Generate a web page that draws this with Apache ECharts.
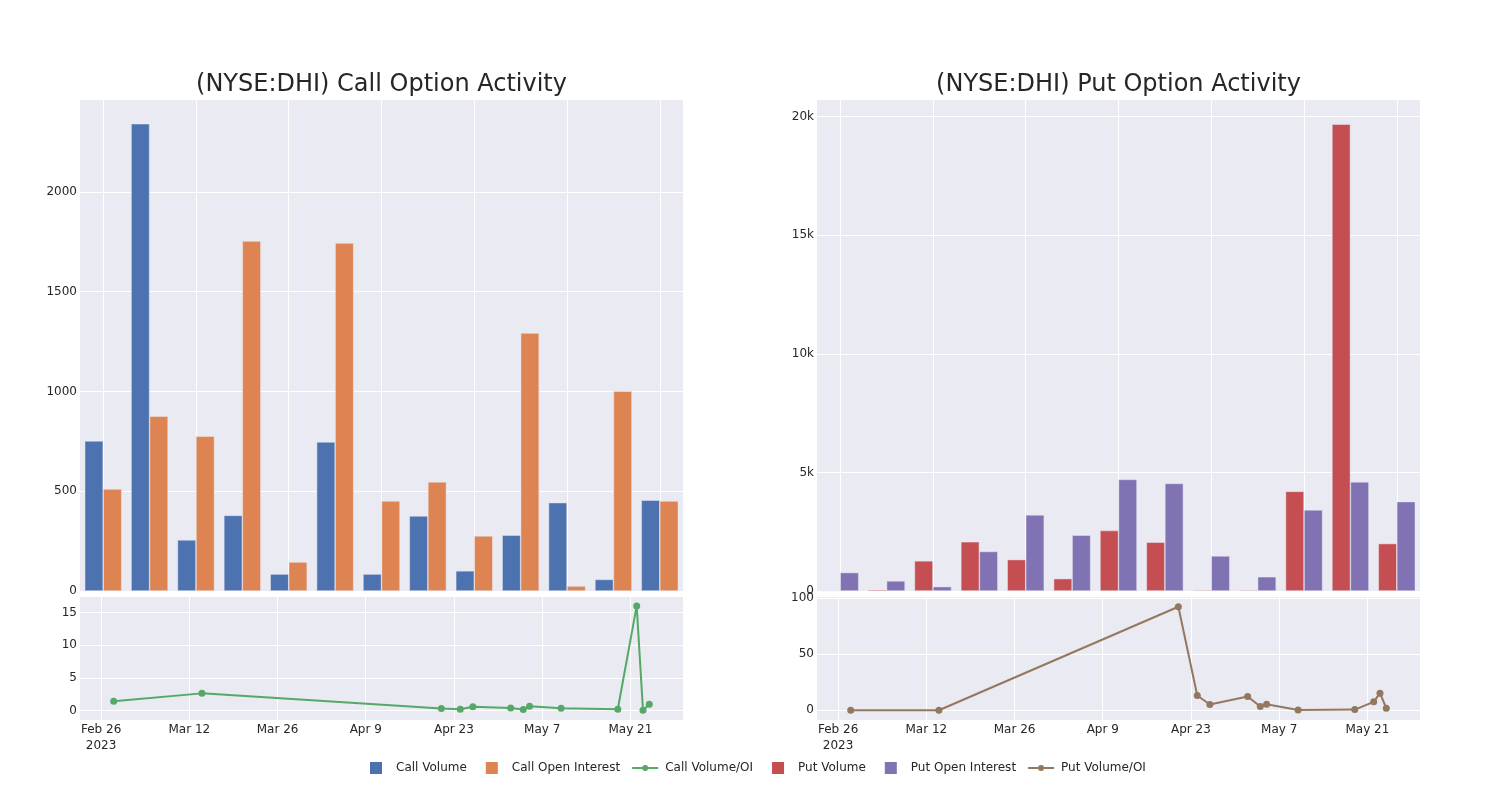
<!DOCTYPE html>
<html><head><meta charset="utf-8">
<script src="https://cdn.jsdelivr.net/npm/echarts@6/dist/echarts.min.js"></script>
<style>html,body{margin:0;padding:0;background:#fff}#c{width:1500px;height:800px}</style>
</head><body><div id="c"></div>
<script>
// ---- data ----
const weekDates = ['2023-02-26','2023-03-05','2023-03-12','2023-03-19','2023-03-26','2023-04-02','2023-04-09','2023-04-16','2023-04-23','2023-04-30','2023-05-07','2023-05-14','2023-05-21'];
const callVolume = [752, 2342, 256, 379, 85, 747, 85, 376, 101, 280, 443, 58, 455];
const callOpenInterest = [511, 876, 776, 1754, 145, 1744, 451, 547, 276, 1293, 25, 1002, 451];
const putVolume = [15, 55, 1271, 2076, 1324, 521, 2549, 2056, 42, 42, 4200, 19680, 2000];
const putOpenInterest = [777, 424, 184, 1667, 3211, 2352, 4704, 4535, 1478, 600, 3420, 4602, 3770];
const ratioDates = ['2023-02-28','2023-03-14','2023-04-21','2023-04-24','2023-04-26','2023-05-02','2023-05-04','2023-05-05','2023-05-10','2023-05-19','2023-05-22','2023-05-23','2023-05-24'];
const callVolOI = [1.44, 2.63, 0.31, 0.2, 0.57, 0.41, 0.15, 0.67, 0.36, 0.2, 16.0, 0.05, 0.98];
const putVolOI = [0, 0, 92.5, 13.2, 5.1, 12.3, 3.3, 5.4, 0.3, 0.6, 7.5, 15.3, 1.8];
const xTickDates = ['2023-02-26','2023-03-12','2023-03-26','2023-04-09','2023-04-23','2023-05-07','2023-05-21'];
const callBarTicks = [0, 500, 1000, 1500, 2000];
const putBarTicks = [0, 5000, 10000, 15000, 20000];
const callRatioTicks = [0, 5, 10, 15];
const putRatioTicks = [0, 50, 100];

// ---- helpers ----
const DAY = 86400000;
const ts = s => Date.parse(s + 'T00:00:00Z');
const MONTHS = ['Jan','Feb','Mar','Apr','May','Jun','Jul','Aug','Sep','Oct','Nov','Dec'];
const xTicks = xTickDates.map(ts);
const fmtDate = v => {
  const d = new Date(v);
  const s = MONTHS[d.getUTCMonth()] + ' ' + d.getUTCDate();
  return v === xTicks[0] ? s + '\n' + d.getUTCFullYear() : s;
};
const pairs = (dates, vals) => dates.map((d, i) => [ts(d), vals[i]]);

const FONT = 'DejaVu Sans';
const TXT = '#262626';
const BG = '#EAEAF2';

const barMin = ts(weekDates[0]) - 3.5 * DAY, barMax = ts(weekDates[weekDates.length - 1]) + 3.5 * DAY;
const lineMin = ts(ratioDates[0]) - 5.35 * DAY, lineMax = ts(ratioDates[ratioDates.length - 1]) + 5.35 * DAY;

function xAxis(gridIndex, min, max, showLabels) {
  return {
    type: 'value', gridIndex, min, max,
    axisLine: {show: false},
    axisTick: {show: false, customValues: xTicks},
    splitLine: {show: true, lineStyle: {color: '#ffffff', width: 1}},
    axisLabel: showLabels ? {
      show: true, customValues: xTicks, formatter: fmtDate, margin: 2,
      fontFamily: FONT, fontSize: 12, color: TXT, lineHeight: 16
    } : {show: false}
  };
}
const plain = v => String(v);
function yAxis(gridIndex, min, max, ticks, fmt) {
  return {
    type: 'value', gridIndex, min, max,
    axisLine: {show: false},
    axisTick: {show: false, customValues: ticks},
    splitLine: {show: true, lineStyle: {color: '#ffffff', width: 1}},
    axisLabel: {show: true, customValues: ticks, formatter: fmt || plain, margin: 3,
      fontFamily: FONT, fontSize: 12, color: TXT}
  };
}
const kfmt = v => v === 0 ? '0' : (v / 1000) + 'k';

function barSeries(name, color, xi, yi, dates, vals) {
  return {
    name, type: 'bar', xAxisIndex: xi, yAxisIndex: yi,
    data: pairs(dates, vals), barWidth: 18.5, barGap: '0%',
    itemStyle: {color, borderColor: 'rgba(234,234,242,0.8)', borderWidth: 0.6},
    emphasis: {disabled: true}
  };
}
function lineSeries(name, color, xi, yi, dates, vals) {
  return {
    name, type: 'line', xAxisIndex: xi, yAxisIndex: yi,
    data: pairs(dates, vals), symbol: 'circle', symbolSize: 7, showSymbol: true,
    lineStyle: {color, width: 2}, itemStyle: {color},
    emphasis: {disabled: true}
  };
}

// legend icons: 30x12 box (tiny corner specks fix the box), square or line+dot in the middle
const SQ = 'path://M9,0H21V12H9Z M0,0H0.01V0.01H0Z M30,12H29.99V11.99H30Z';
const LN = 'path://M2,5H12V7H2Z M18,5H28V7H18Z M18,6A3,3 0 1,1 12,6A3,3 0 1,1 18,6Z M0,0H0.01V0.01H0Z M30,12H29.99V11.99H30Z';
const chart = echarts.init(document.getElementById('c'), null, {renderer: 'canvas'});
chart.setOption({
  animation: false,
  backgroundColor: '#ffffff',
  title: [
    {text: '(NYSE:DHI) Call Option Activity', left: 381.5, top: 73, textAlign: 'center', padding: 0,
     textStyle: {fontFamily: FONT, fontSize: 24, fontWeight: 'normal', color: TXT}},
    {text: '(NYSE:DHI) Put Option Activity', left: 1118.5, top: 73, textAlign: 'center', padding: 0,
     textStyle: {fontFamily: FONT, fontSize: 24, fontWeight: 'normal', color: TXT}}
  ],
  grid: [
    {left: 80, top: 100, width: 603, height: 491, show: true, backgroundColor: BG, borderWidth: 0},
    {left: 80, top: 597, width: 603, height: 123, show: true, backgroundColor: BG, borderWidth: 0},
    {left: 817, top: 100, width: 603, height: 491, show: true, backgroundColor: BG, borderWidth: 0},
    {left: 817, top: 597, width: 603, height: 123, show: true, backgroundColor: BG, borderWidth: 0}
  ],
  xAxis: [
    xAxis(0, barMin, barMax, false),
    xAxis(1, lineMin, lineMax, true),
    xAxis(2, barMin, barMax, false),
    xAxis(3, lineMin, lineMax, true)
  ],
  yAxis: [
    yAxis(0, 0, 2461, callBarTicks),
    yAxis(1, -1.44, 17.36, callRatioTicks),
    yAxis(2, 0, 20700, putBarTicks, kfmt),
    yAxis(3, -8.7, 101.2, putRatioTicks)
  ],
  legend: {
    left: 361, top: 762, itemWidth: 30, itemHeight: 12, itemGap: 10, padding: 0,
    itemStyle: {borderWidth: 0, borderColor: 'transparent'},
    lineStyle: {width: 0},
    textStyle: {fontFamily: FONT, fontSize: 12, color: TXT},
    data: [
      {name: 'Call Volume', icon: SQ},
      {name: 'Call Open Interest', icon: SQ},
      {name: 'Call Volume/OI', icon: LN},
      {name: 'Put Volume', icon: SQ},
      {name: 'Put Open Interest', icon: SQ},
      {name: 'Put Volume/OI', icon: LN}
    ]
  },
  series: [
    barSeries('Call Volume', '#4C72B0', 0, 0, weekDates, callVolume),
    barSeries('Call Open Interest', '#DD8452', 0, 0, weekDates, callOpenInterest),
    lineSeries('Call Volume/OI', '#55A868', 1, 1, ratioDates, callVolOI),
    barSeries('Put Volume', '#C44E52', 2, 2, weekDates, putVolume),
    barSeries('Put Open Interest', '#8172B3', 2, 2, weekDates, putOpenInterest),
    lineSeries('Put Volume/OI', '#937860', 3, 3, ratioDates, putVolOI)
  ]
});
</script></body></html>
